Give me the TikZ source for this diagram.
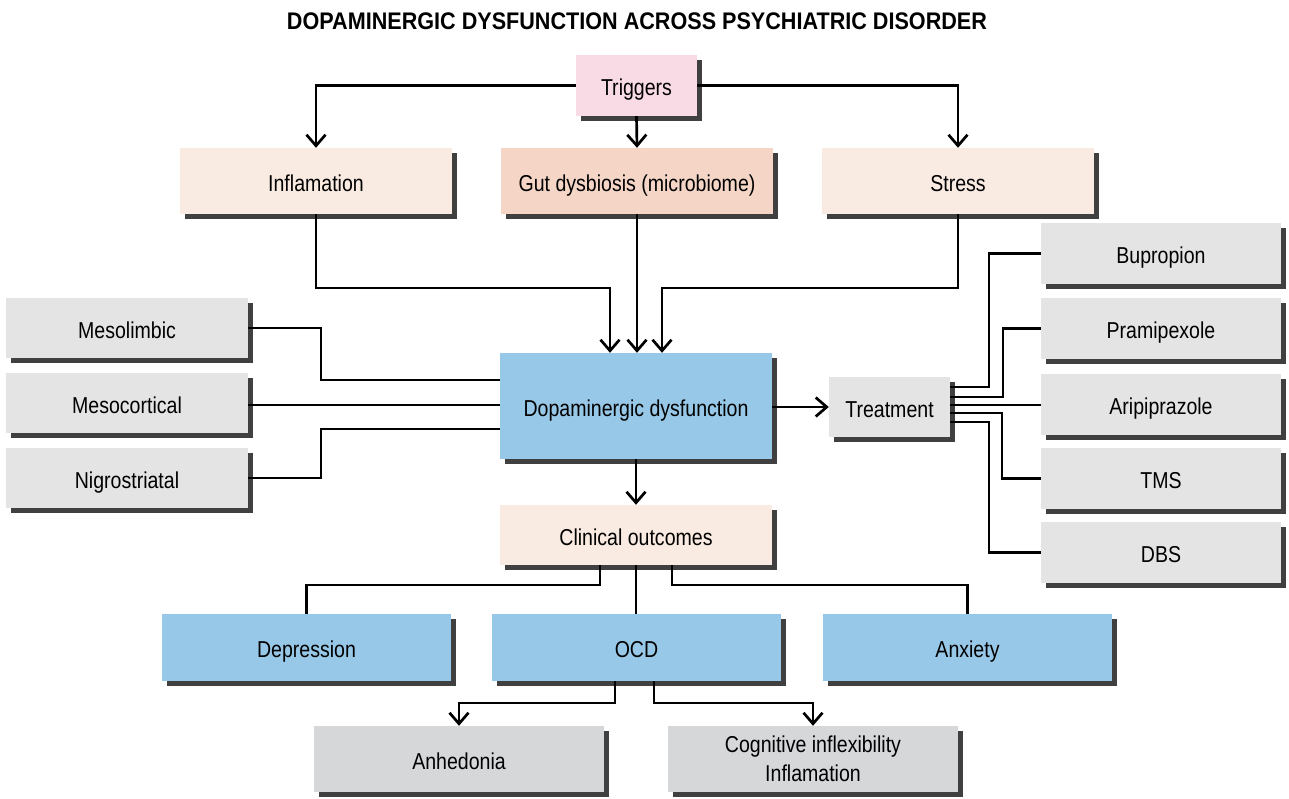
\documentclass[tikz,border=0pt]{standalone}
\usepackage{fontspec}
\setmainfont[FakeStretch=0.85]{Liberation Sans}
\newfontfamily\titlefont[FakeStretch=0.9]{Liberation Sans}
\usetikzlibrary{arrows.meta,shadows}
\definecolor{cpink}{HTML}{F9DBE6}
\definecolor{cpeach}{HTML}{FAEBE2}
\definecolor{cpeachd}{HTML}{F5D6C6}
\definecolor{cblue}{HTML}{97C8E7}
\definecolor{cgray}{HTML}{E3E4E3}
\definecolor{cgrayd}{HTML}{D6D7D9}
\definecolor{cshadow}{HTML}{404040}
\begin{document}
\begin{tikzpicture}[x=1pt,y=-1pt,
  every node/.style={font=\fontsize{23}{28}\selectfont, text=black},
  shadowbox/.style={draw=none, inner sep=0pt, align=center,
    drop shadow={shadow xshift=5pt, shadow yshift=-5pt, fill=cshadow, opacity=1}},
  boxbase/.style={shadowbox, text height=22pt, text depth=1.5pt},
  pinkbox/.style={boxbase, fill=cpink},
  peachbox/.style={boxbase, fill=cpeach},
  peachdbox/.style={boxbase, fill=cpeachd},
  bluebox/.style={boxbase, fill=cblue},
  graybox/.style={boxbase, fill=cgray},
  graydbox/.style={boxbase, fill=cgrayd},
  conn/.style={line width=2.7pt, draw=black},
  arr/.style={conn, -{Straight Barb[length=11pt,width=19pt,line width=2.7pt]}}
]
\useasboundingbox (0,0) rectangle (1289,798);

\node[font=\titlefont\bfseries\fontsize{24}{28}\selectfont] (title) at (637,21) {DOPAMINERGIC DYSFUNCTION ACROSS PSYCHIATRIC DISORDER};

% top
\node[pinkbox, minimum width=121, minimum height=61] (trig) at (636.5,85.5) {Triggers};
\node[peachbox, minimum width=272, minimum height=66] (infl) at (316,181) {Inflamation};
\node[peachdbox, minimum width=272, minimum height=66] (gut) at (637,181) {Gut dysbiosis (microbiome)};
\node[peachbox, minimum width=272, minimum height=66] (stress) at (958,181) {Stress};

% left
\node[graybox, minimum width=242, minimum height=60] (meso) at (127,328) {Mesolimbic};
\node[graybox, minimum width=242, minimum height=60] (mesoc) at (127,403) {Mesocortical};
\node[graybox, minimum width=242, minimum height=60] (nigro) at (127,478) {Nigrostriatal};

% center
\node[bluebox, minimum width=272, minimum height=106] (dop) at (636,406) {Dopaminergic dysfunction};
\node[graybox, minimum width=121, minimum height=60] (treat) at (889.5,407) {Treatment};

% right
\node[graybox, minimum width=240, minimum height=61] (bup) at (1161,253.5) {Bupropion};
\node[graybox, minimum width=240, minimum height=61] (pram) at (1161,328.5) {Pramipexole};
\node[graybox, minimum width=240, minimum height=61] (arip) at (1161,404.5) {Aripiprazole};
\node[graybox, minimum width=240, minimum height=61] (tms) at (1161,478.5) {TMS};
\node[graybox, minimum width=240, minimum height=61] (dbs) at (1161,552.5) {DBS};

% outcomes
\node[peachbox, minimum width=272, minimum height=60] (clin) at (636,535) {Clinical outcomes};
\node[bluebox, minimum width=289, minimum height=67] (dep) at (306.5,647.5) {Depression};
\node[bluebox, minimum width=289, minimum height=67] (ocd) at (636.5,647.5) {OCD};
\node[bluebox, minimum width=289, minimum height=67] (anx) at (967.5,647.5) {Anxiety};
\node[graydbox, minimum width=290, minimum height=66] (anh) at (459,759) {Anhedonia};
\node[shadowbox, fill=cgrayd, minimum width=290, minimum height=66] (cog) at (813,759) {Cognitive inflexibility\\[1pt]Inflamation};

% connectors: triggers
\draw[arr] (trig.west) -| (infl.north);
\draw[arr] (trig.south) -- (gut.north);
\draw[arr] (trig.east) -| (stress.north);

% into dopaminergic
\draw[arr] (infl.south) |- (610,288) -- (dop.north -| 610,0);
\draw[arr] (gut.south) -- (dop.north -| gut.south);
\draw[arr] (stress.south) |- (662,288) -- (dop.north -| 662,0);

% pathways
\draw[conn] (meso.east) -- (321,328) -- (321,380) -- (dop.west |- 0,380);
\draw[conn] (mesoc.east |- 0,405) -- (dop.west |- 0,405);
\draw[conn] (nigro.east) -- (321,478) -- (321,429) -- (dop.west |- 0,429);

% treatment
\draw[arr] (dop.east |- treat.west) -- (treat.west);
\draw[conn] (treat.east |- 0,387) -- (989,387) |- (bup.west);
\draw[conn] (treat.east |- 0,397) -- (1003,397) |- (pram.west);
\draw[conn] (treat.east |- 0,405) -- (arip.west |- 0,405);
\draw[conn] (treat.east |- 0,413) -- (1002,413) |- (tms.west);
\draw[conn] (treat.east |- 0,422) -- (989,422) |- (dbs.west);

% outcomes
\draw[arr] (dop.south) -- (clin.north);
\draw[conn] (clin.south -| 600,0) -- (600,585) -| (dep.north);
\draw[conn] (clin.south) -- (ocd.north -| clin.south);
\draw[conn] (clin.south -| 672,0) -- (672,585) -| (anx.north);
\draw[arr] (ocd.south -| 615,0) -- (615,703) -| (anh.north);
\draw[arr] (ocd.south -| 654,0) -- (654,703) -| (cog.north);
\end{tikzpicture}
\end{document}
